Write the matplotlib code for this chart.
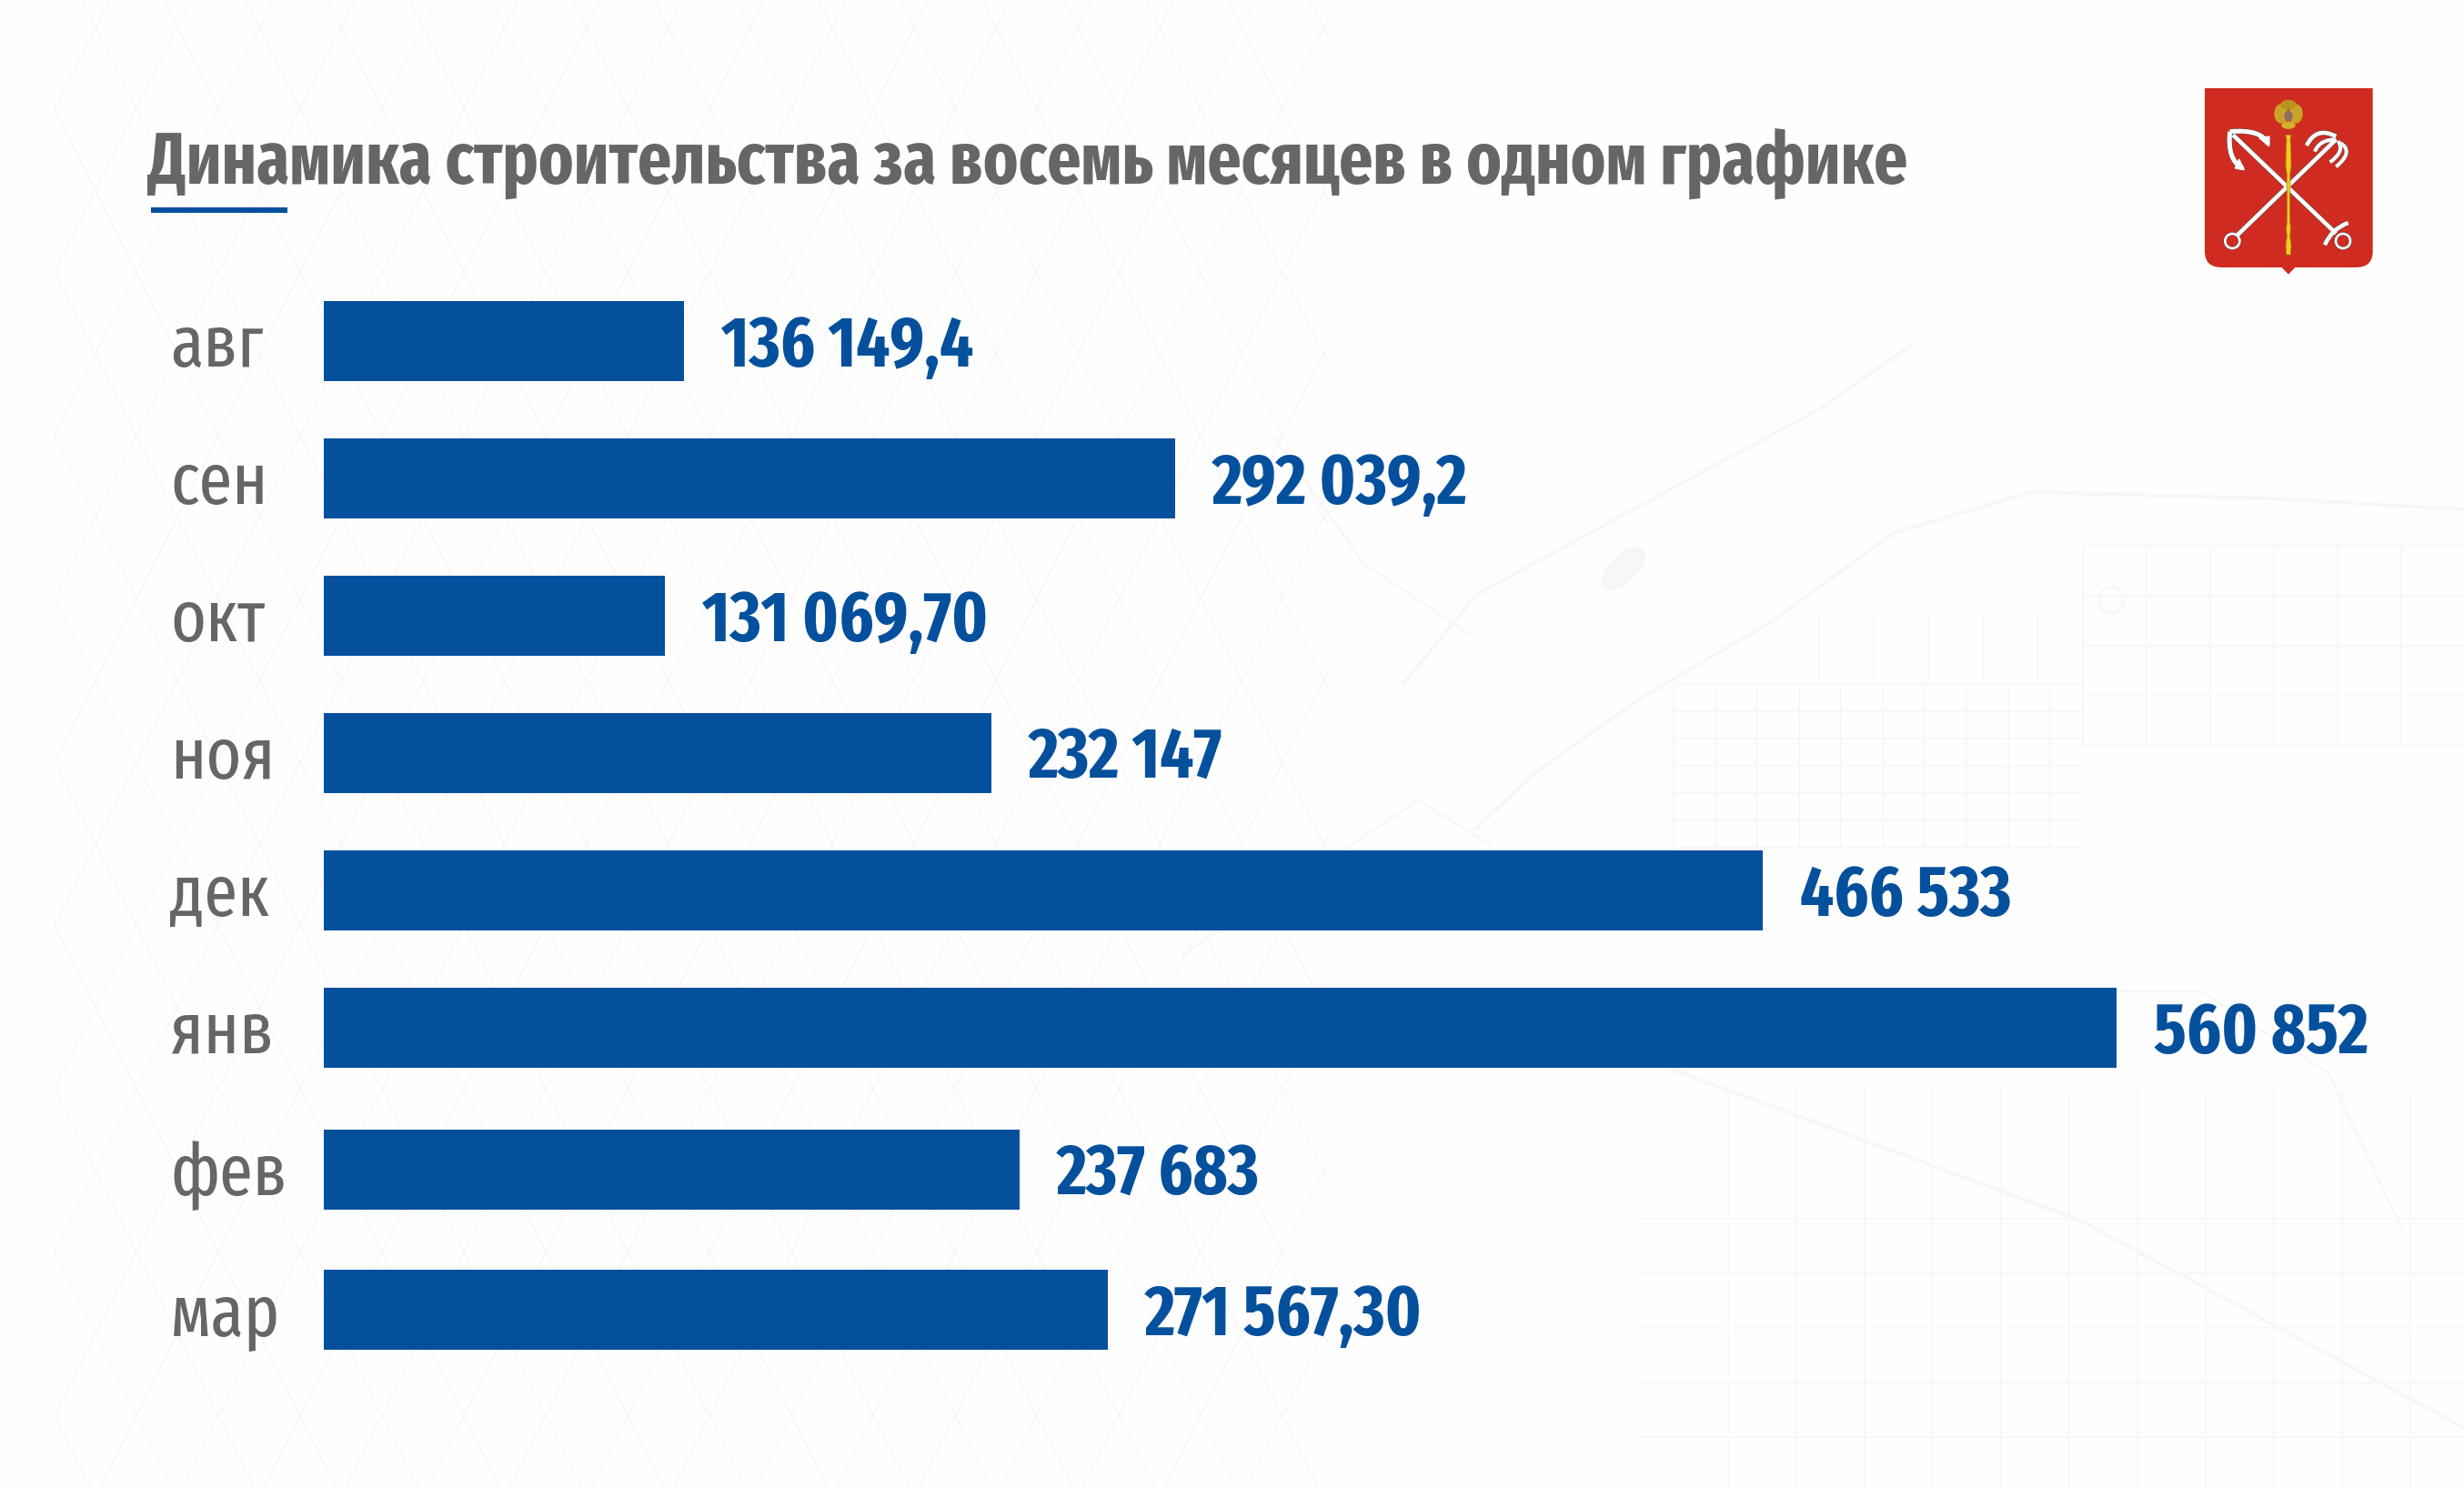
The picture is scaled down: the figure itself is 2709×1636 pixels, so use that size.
import matplotlib
matplotlib.use("Agg")
import matplotlib.pyplot as plt
from matplotlib.path import Path
from matplotlib.patches import PathPatch, Circle, Ellipse, Polygon, Rectangle

# данные
mesyacy = ["авг", "сен", "окт", "ноя", "дек", "янв", "фев", "мар"]
podpisi = ["136 149,4", "292 039,2", "131 069,70", "232 147", "466 533", "560 852", "237 683", "271 567,30"]
# длины полос, в оригинале они не совсем по подписям
dliny = [112700, 266300, 106700, 208800, 450100, 560852, 217700, 245300]

# ряды стоят чуть неровно, последние два сдвинуты вниз
ryady = [0, 1, 2, 3, 4, 5, 6.03, 7.05]

SINIY = "#04509d"
SERYY = "#666666"
LINIYA = "#f7f7f8"
SHRIFT = ["Fira Sans Extra Condensed", "Roboto Condensed", "Noto Sans", "DejaVu Sans"]
PX = 0.72  # один пиксель в пунктах при dpi 100

fig = plt.figure(figsize=(27.09, 16.36), dpi=100, facecolor="#fefefe")

# ------------------ фон, заголовок и герб в пикселях ------------------
fon = fig.add_axes([0, 0, 1, 1])
fon.set_xlim(0, 2709)
fon.set_ylim(1636, 0)
fon.axis("off")

def liniya(tochki, lw=1.4):
    xs = [t[0] for t in tochki]
    ys = [t[1] for t in tochki]
    return fon.plot(xs, ys, color=LINIYA, lw=lw, solid_capstyle="round")[0]

# ромбы слева, только до середины картинки
okno = Rectangle((60, 0), 1400, 1636, transform=fon.transData)
for x in range(-1600, 1600, 90):
    liniya([(x, 1636), (x + 820, 0)], 1.2).set_clip_path(okno)
for x in range(100, 3300, 90):
    liniya([(x, 1636), (x - 820, 0)], 1.2).set_clip_path(okno)

# крупные дороги справа
liniya([(1623, 911), (1686, 851), (1803, 768), (1947, 684), (2082, 586), (2234, 541), (2495, 548), (2709, 560)], 3)
liniya([(1543, 752), (1623, 654), (1803, 556), (2000, 450), (2100, 380)], 3)
liniya([(1839, 1176), (2288, 1342), (2709, 1570)], 3)
liniya([(1300, 1050), (1560, 880), (1640, 930)], 2)
liniya([(1400, 480), (1500, 620), (1620, 700)], 2)
liniya([(2150, 1090), (2420, 1090), (2560, 1180), (2640, 1350)], 2)

# кварталы
for x in range(1840, 2300, 46):
    liniya([(x, 752), (x, 934)])
for y in range(752, 950, 30):
    liniya([(1840, y), (2290, y)])
for x in range(2000, 2300, 60):
    liniya([(x, 675), (x, 752)])
for x in range(2290, 2709, 70):
    liniya([(x, 600), (x, 820)])
for y in range(600, 830, 55):
    liniya([(2290, y), (2709, y)])
for x in range(1900, 2709, 75):
    liniya([(x, 1200), (x, 1636)])
for y in range(1340, 1636, 60):
    liniya([(1800, y), (2709, y)])
fon.add_patch(Circle((2321, 660), 14, fill=False, ec=LINIYA, lw=2))
fon.add_patch(Ellipse((1785, 625), 60, 28, angle=-45, color="#f7f7f8"))

fon.text(162, 203, "Динамика строительства за восемь месяцев в одном графике",
         family=SHRIFT, fontweight="bold", fontsize=57, color=SERYY, va="baseline")
fon.plot([166, 316], [231, 231], color=SINIY, lw=6 * PX, solid_capstyle="butt")

# герб, координаты в единицах увеличенного кадра
def g(x, y):
    return (2380 + x / 3, 70 + y / 3)

def krivaya(a, b, c, lw, cvet="white"):
    put = Path([g(*a), g(*b), g(*c)], [Path.MOVETO, Path.CURVE3, Path.CURVE3])
    fon.add_patch(PathPatch(put, fill=False, ec="#555555", lw=(lw + 1) * PX, capstyle="butt", zorder=6))
    fon.add_patch(PathPatch(put, fill=False, ec=cvet, lw=lw * PX, capstyle="butt", zorder=7))

def palka(a, b, lw):
    fon.plot(*zip(g(*a), g(*b)), color="#555555", lw=(lw + 1) * PX, solid_capstyle="butt", zorder=6)
    fon.plot(*zip(g(*a), g(*b)), color="white", lw=lw * PX, solid_capstyle="butt", zorder=7)

def kolco(x, y):
    fon.add_patch(Circle(g(x, y), 8, fill=False, ec="#555555", lw=3.6 * PX, zorder=6))
    fon.add_patch(Circle(g(x, y), 8, fill=False, ec="white", lw=2.6 * PX, zorder=7))

shchit = Path(
    [g(132, 81), g(686, 81), g(686, 620), g(686, 672), g(630, 672), g(430, 672), g(408, 695), g(386, 672),
     g(188, 672), g(132, 672), g(132, 620), g(132, 81)],
    [Path.MOVETO, Path.LINETO, Path.LINETO, Path.CURVE3, Path.CURVE3, Path.LINETO, Path.LINETO, Path.LINETO,
     Path.LINETO, Path.CURVE3, Path.CURVE3, Path.CLOSEPOLY])
fon.add_patch(PathPatch(shchit, fc="#cf2b20", ec="none", zorder=5))

# якорь
palka((225, 235), (565, 560), 4.5)
krivaya((215, 224), (320, 215), (340, 265), 5)
krivaya((215, 224), (205, 320), (258, 345), 5)
fon.add_patch(Polygon([g(312, 245), g(345, 240), g(344, 272)], color="white", zorder=7))
fon.add_patch(Polygon([g(232, 345), g(262, 350), g(245, 315)], color="white", zorder=7))
krivaya((528, 598), (550, 545), (605, 525), 4.5)
kolco(588, 585)

# трезубец
palka((240, 565), (565, 250), 4.5)
krivaya((565, 240), (500, 205), (468, 270), 4.5)
krivaya((565, 250), (510, 250), (495, 290), 4)
krivaya((572, 255), (595, 290), (545, 325), 4)
krivaya((580, 262), (625, 290), (565, 340), 4)
kolco(223, 585)

# скипетр
profil = [(235, 9), (250, 6), (290, 8), (340, 9), (365, 5), (395, 6), (440, 4), (520, 5), (545, 7), (570, 5), (600, 9), (630, 7)]
levo = [g(408 - w, y) for y, w in profil]
pravo = [g(408 + w, y) for y, w in reversed(profil)]
fon.add_patch(Polygon(levo + pravo, fc="#f3cb1f", ec="#a88a12", lw=0.6, zorder=8))

# орёл
fon.add_patch(Ellipse(g(384, 165), 14, 20, color="#c9a227", zorder=8))
fon.add_patch(Ellipse(g(432, 165), 14, 20, color="#c9a227", zorder=8))
fon.add_patch(Ellipse(g(408, 135), 16, 9, color="#b8921f", zorder=8))
fon.add_patch(Ellipse(g(408, 203), 14, 7, color="#d6b22e", zorder=8))
fon.add_patch(Ellipse(g(408, 172), 8, 10, color="#8d6e63", zorder=9))

# ------------------ график ------------------
# одна строка = 151 пиксель, ось подогнана под картинку
ax = fig.add_axes([356 / 2709, 1 - 1522.6 / 1636, (2327 - 356) / 2709, (1522.6 - 299.5) / 1636])
ax.patch.set_alpha(0)
ax.barh(ryady, dliny, height=0.583, color=SINIY)
ax.set_xlim(0, max(dliny))
ax.set_ylim(7.6, -0.5)
ax.axis("off")

for i in range(len(mesyacy)):
    ax.annotate(mesyacy[i], xy=(0, ryady[i]), xytext=(-169 * PX, -28 * PX), textcoords="offset points",
                family=SHRIFT, fontweight="normal", fontsize=58, color=SERYY, va="baseline", ha="left",
                annotation_clip=False)
    ax.annotate(podpisi[i], xy=(dliny[i], ryady[i]), xytext=(41 * PX, -28 * PX), textcoords="offset points",
                family=SHRIFT, fontweight="bold", fontsize=56.5, color=SINIY, va="baseline", ha="left",
                annotation_clip=False)

fig.savefig("out.png", dpi=100, facecolor=fig.get_facecolor())
